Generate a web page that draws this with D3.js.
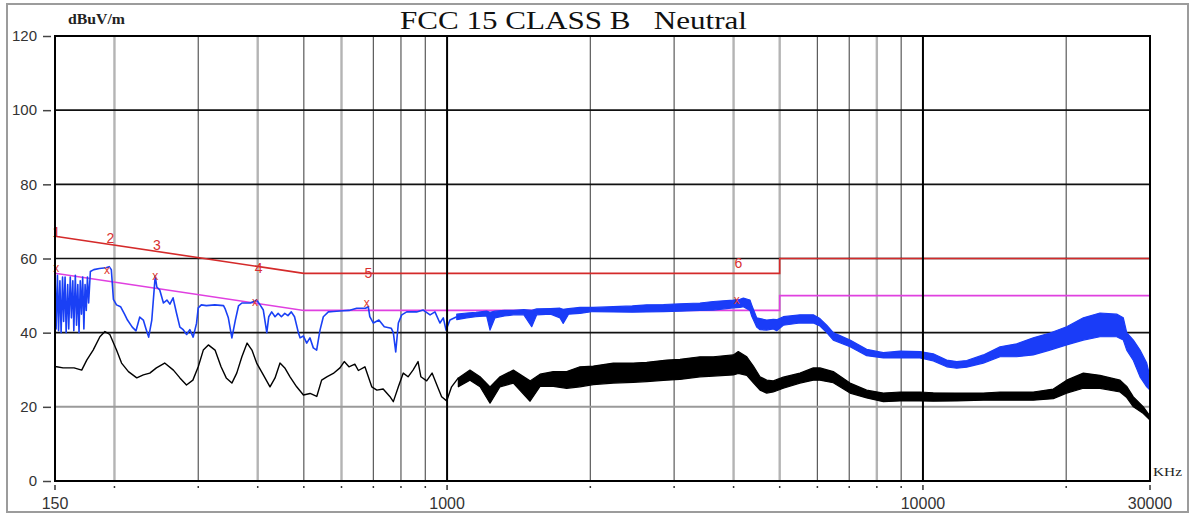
<!DOCTYPE html>
<html><head><meta charset="utf-8">
<script src="https://cdn.jsdelivr.net/npm/d3@7"></script>
<style>body{margin:0;background:#fff}svg{display:block}</style>
</head><body>
<script>
// ---------- DATA ----------
const titleText = "FCC 15 CLASS B   Neutral";
const yUnit = "dBuV/m";
const xUnit = "KHz";
const yTicks = [0, 20, 40, 60, 80, 100, 120];
const xTickLabels = [150, 1000, 10000, 30000];
const gridFreqs = [200,300,400,500,600,700,800,900,2000,3000,4000,5000,6000,7000,8000,9000,20000];
const majorFreqs = [1000, 10000];
const hGrid = [20, 40, 60, 80, 100];

// QP limit (red) and Average limit (magenta)
const limitFreq = [150, 500, 5000, 5000, 30000];
const qpLimit = [66, 56, 56, 60, 60];
const avLimit = [56, 46, 46, 50, 50];

// Peak trace (blue), low-frequency detailed part
const bluePeakFreq = [150,150.8,151.8,152.6,153.6,154.5,155.6,156.4,157.5,158.3,159.5,160.3,161.5,162.4,163.5,164.3,165.5,166.5,167.5,168.5,169.5,170.5,171.5,172.5,173.5,174.5,175.5,176.5,178,181,186,192,195,197,199,202,206,210,213,218,222,226,230,233,236,239.6,243.6,245.5,249,253.5,257.8,261.5,265.6,270,274.5,278.9,283.6,288,292.7,297.5,300,304.5,312,325,339,341.5,347,353,359,364.5,370.5,386,398,404.6,411,418,422,428,435,441.6,448.6,456,463,470.6,478,487,491,499,507,515,523.5,532,540.7,549.5,563,576.6,605,622,645.7,674,683,688,700,719,738,763,771,780,790,803,822.6,863,891,921,943,966,982,995,1014,1048];
const bluePeakDb = [56,41,55.5,40.5,54,40,55,43,55,40,53,41,55,44,54,40.5,55.5,42,53,40,54,45,55,41,53,46,55,48,56.5,57,57.3,57.5,57.8,57,49,47.5,47,45,43.4,41.5,40.5,44.2,43.4,41,38.8,43.4,55.3,52.3,51.5,48,48.8,47.7,49.4,45.3,41.5,40.8,39.5,40.8,38.8,42.5,46.7,47.5,47.3,47.5,47.3,46.5,44,38.6,43.4,47.2,48,48,48.8,47.5,46.1,40,44.3,45.6,44.3,45.2,44.3,45.2,44.6,45.6,44.3,40,38.6,39.1,37.2,38.6,35.9,35.3,40.7,44.3,45.6,45.7,45.9,46,46.6,46.6,47,44.3,42.6,43.4,41.6,41.2,40,34.8,42.6,44.8,45.6,45.6,46.1,44.8,45.6,42.6,44,40.7,43.4,44.3];

// Peak trace (blue), noisy band part: frequency, lower and upper envelope
const blueBandFreq = [1048,1100,1150,1211,1231,1261,1320,1378,1450,1506,1543,1650,1727,1754,1800,1902,2029,2235,2450,2627,2850,3086,3400,3626,3996,4126,4194,4330,4366,4473,4546,4695,4848,4928,5088,5515,5883,6075,6278,6480,7027,7616,8256,8949,9858,10512,11218,11774,12358,13392,14520,15740,17055,18490,20045,21730,23550,25530,26365,26807,27680,28590,29530,30000];
const blueBandLo = [43.5,44.0,44.3,44.5,40.7,44.0,44.5,44.8,44.8,41.6,44.8,45.0,44.0,42.5,45.0,45.2,45.7,45.6,45.5,45.6,45.7,45.8,46.0,46.1,46.7,46.8,47.0,46.0,44.5,41.5,40.8,40.7,41.0,40.5,42.0,42.6,42.6,41.8,40.0,38.0,36.2,33.8,33.2,33.2,33.2,32.4,30.8,30.4,30.7,31.8,33.5,33.5,34.0,35.3,36.7,38.0,38.9,38.9,38.0,35.3,32.5,28.1,25.4,24.5];
const blueBandHi = [45.0,45.3,45.5,45.8,45.5,45.8,46.0,46.0,46.2,46.0,46.4,46.5,46.6,46.3,46.5,46.8,46.8,47.0,47.2,47.5,47.6,47.8,48.0,48.4,48.8,49.0,49.3,48.8,47.5,44.0,43.8,43.4,43.6,43.5,44.3,44.8,44.8,43.8,42.0,40.0,38.0,35.5,34.6,35.0,34.9,34.3,32.6,32.2,32.5,34.0,36.2,37.0,38.6,39.9,41.6,44.0,45.3,45.0,44.0,40.0,38.0,35.3,31.8,28.0];

// Average trace (black), low-frequency detailed part
const blackAvgFreq = [150,151.2,156,164.5,170.7,174.9,180.4,186.4,191,195.6,202,207,214,222.8,230,237.3,245,255,266,274.5,283.4,292.3,300,307.4,315,325.4,335,343.5,353,361.4,370.5,380,389,398,411,424.5,435,445.6,456,467.7,483,499,515.4,532.3,545,558.8,576.6,595.5,608,622,640,651,672,694.6,712,734,758,771,790,809,828,848,869,881,906,930,955,974,998,1022,1056];
const blackAvgDb = [31,30.8,30.5,30.5,29.9,32.6,35.3,38.9,40.3,39.5,35.3,31.8,29.5,27.8,28.6,29.1,30.5,31.8,29.9,27.8,25.9,27.2,30.8,35.3,36.7,35.3,30.8,27.8,26.4,29.1,33.5,37.2,35.3,31.8,28.6,25.4,27.8,31.8,30.5,28.1,25.4,23.2,23.6,22.8,27.2,28.1,29,30.5,32.2,30.8,31.5,29.8,30.8,25.4,24.5,24.8,22.8,21.4,25.4,29.1,28.1,29.9,32.2,28.1,27,29.1,25.4,22.7,21.6,25.4,27.8];

// Average trace (black), noisy band part
const blackBandFreq = [1056,1117,1173,1231,1292,1378,1494,1568,1672,1784,1902,2029,2235,2462,2627,2894,3086,3400,3626,3996,4092,4264,4402,4546,4695,4848,5088,5515,5883,6075,6480,7027,7616,8256,8949,9858,10512,11774,13392,14520,17055,18790,20045,21730,23550,25950,26807,27680,29050,30000];
const blackBandLo = [25.4,27.2,25.4,21.0,25.4,26.4,21.5,25.5,25.5,25.0,25.4,26.0,26.4,26.6,26.8,27.2,27.4,28.1,28.3,28.6,29.0,28.5,26.5,24.5,23.7,24.0,25.0,26.4,27.2,27.2,26.5,23.7,22.4,21.4,21.6,21.6,21.5,21.6,21.8,21.8,21.8,22.2,23.7,25.0,25.0,24.0,22.5,20.0,18.2,16.4];
const blackBandHi = [27.8,29.9,28.1,25.4,28.1,29.9,27.0,28.8,29.5,29.5,30.8,31.0,31.8,31.8,32.0,32.6,32.8,33.5,33.5,34.0,34.9,33.5,31.0,28.1,27.2,27.0,28.0,29.1,30.5,30.5,29.5,26.4,24.5,23.7,24.0,24.0,23.8,23.7,23.7,24.0,24.0,24.8,27.2,29.1,28.5,27.2,25.5,22.7,20.0,17.5];

// Markers: numbered labels and "x" peak marks
const markerIds = ["1","2","3","4","5","6"];
const markerLabelFreq = [151, 196, 245.5, 402, 683, 4092];
const markerLabelDb = [67.2, 65.5, 63.6, 57.4, 56.0, 58.7];
const markerPeakFreq = [151, 193, 243.6, 395, 678, 4060];
const markerPeakDb = [57.4, 56.9, 55.3, 48.4, 48.1, 48.8];

// ---------- DRAW ----------
const W = 1194, H = 515;
const L = 55, R = 1150, T = 36, B = 481;
const svg = d3.select("body").append("svg").attr("width", W).attr("height", H);
svg.append("rect").attr("width", W).attr("height", H).attr("fill", "#fff");
svg.append("rect").attr("x", 7).attr("y", 4).attr("width", 1181).attr("height", 508)
  .attr("fill", "none").attr("stroke", "#9c9c9c").attr("stroke-width", 2);

const x = d3.scaleLog().domain([150, 30000]).range([L, R]);
const y = d3.scaleLinear().domain([0, 120]).range([B, T]);

// minor vertical grid
const lightSet = new Set([200, 400, 600, 4000, 5000, 8000]);
svg.append("g").selectAll("line").data(gridFreqs).join("line")
  .attr("x1", d => x(d)).attr("x2", d => x(d)).attr("y1", T).attr("y2", B)
  .attr("stroke", d => lightSet.has(d) ? "#b4b4b4" : "#5a5a5a")
  .attr("stroke-width", d => lightSet.has(d) ? 2.4 : 1.2);

// horizontal grid
svg.append("g").selectAll("line").data(hGrid).join("line")
  .attr("x1", L).attr("x2", R).attr("y1", d => y(d)).attr("y2", d => y(d))
  .attr("stroke", d => d === 20 ? "#9a9a9a" : "#111")
  .attr("stroke-width", d => d === 20 ? 2 : 1.6);

// limits
const lim = (vals) => d3.line().x((d, i) => x(limitFreq[i])).y(d => y(d))(vals);
svg.append("path").attr("d", lim(avLimit)).attr("fill", "none").attr("stroke", "#e040e0").attr("stroke-width", 1.6);
svg.append("path").attr("d", lim(qpLimit)).attr("fill", "none").attr("stroke", "#d42a2a").attr("stroke-width", 1.6);

// traces
function band(freqs, lo, hi, color) {
  const a = d3.area().x((d, i) => x(freqs[i])).y0((d, i) => y(lo[i])).y1((d, i) => y(hi[i]));
  svg.append("path").attr("d", a(freqs)).attr("fill", color).attr("stroke", color).attr("stroke-width", 1.2).attr("stroke-linejoin", "round");
}
function trace(freqs, vals, color, w) {
  const l = d3.line().x((d, i) => x(freqs[i])).y(d => y(d));
  svg.append("path").attr("d", l(vals)).attr("fill", "none").attr("stroke", color).attr("stroke-width", w).attr("stroke-linejoin", "round");
}
band(blueBandFreq, blueBandLo, blueBandHi, "#1a3cf8");
trace(bluePeakFreq, bluePeakDb, "#1a40f5", 1.6);
band(blackBandFreq, blackBandLo, blackBandHi, "#000");
trace(blackAvgFreq, blackAvgDb, "#000", 1.4);

// major vertical grid on top
svg.append("g").selectAll("line").data(majorFreqs).join("line")
  .attr("x1", d => x(d)).attr("x2", d => x(d)).attr("y1", T).attr("y2", B)
  .attr("stroke", "#000").attr("stroke-width", 2);

// markers
svg.append("g").selectAll("text").data(markerIds).join("text")
  .attr("x", (d, i) => x(markerLabelFreq[i])).attr("y", (d, i) => y(markerLabelDb[i]))
  .attr("text-anchor", "middle").attr("dominant-baseline", "central")
  .attr("font-family", "Liberation Sans, Arial, sans-serif").attr("font-size", 14)
  .attr("fill", "#d83030").text(d => d);
svg.append("g").selectAll("text").data(markerIds).join("text")
  .attr("x", (d, i) => x(markerPeakFreq[i])).attr("y", (d, i) => y(markerPeakDb[i]))
  .attr("text-anchor", "middle").attr("dominant-baseline", "central")
  .attr("font-family", "Liberation Sans, Arial, sans-serif").attr("font-size", 12)
  .attr("fill", "#e03c30").text("x");

// plot frame
svg.append("rect").attr("x", L).attr("y", T).attr("width", R - L).attr("height", B - T)
  .attr("fill", "none").attr("stroke", "#000").attr("stroke-width", 2);

// y axis
const yAxis = d3.axisLeft(y).tickValues(yTicks).tickSize(8).tickPadding(6).tickFormat(d3.format("d"));
const gy = svg.append("g").attr("transform", "translate(51,0)").call(yAxis);
gy.select(".domain").remove();
gy.selectAll("line").attr("stroke", "#444").attr("stroke-width", 1.5);
gy.selectAll("text").attr("font-family", "Liberation Sans, Arial, sans-serif").attr("font-size", 15).attr("fill", "#333");

// x axis: small tick dots + labels
const allTicks = [150].concat(gridFreqs, majorFreqs, [30000]);
svg.append("g").selectAll("line").data(allTicks).join("line")
  .attr("x1", d => x(d)).attr("x2", d => x(d))
  .attr("y1", d => xTickLabels.includes(d) ? 485 : 486).attr("y2", d => xTickLabels.includes(d) ? 490 : 488)
  .attr("stroke", "#333").attr("stroke-width", 1.5);
svg.append("g").selectAll("text").data(xTickLabels).join("text")
  .attr("x", d => x(d)).attr("y", 509).attr("text-anchor", "middle")
  .attr("font-family", "Liberation Sans, Arial, sans-serif").attr("font-size", 16).attr("fill", "#333")
  .text(d => d);

// texts
svg.append("text").attr("x", 400).attr("y", 29).attr("textLength", 347).attr("lengthAdjust", "spacingAndGlyphs")
  .attr("font-family", "Liberation Serif, Times New Roman, serif").attr("font-size", 26).attr("fill", "#111")
  .attr("xml:space", "preserve").style("white-space", "pre").text(titleText);
svg.append("text").attr("x", 68).attr("y", 24).attr("textLength", 57).attr("lengthAdjust", "spacingAndGlyphs")
  .attr("font-family", "Liberation Serif, Times New Roman, serif").attr("font-size", 14).attr("font-weight", "bold").attr("fill", "#222")
  .text(yUnit);
svg.append("text").attr("x", 1153).attr("y", 476).attr("textLength", 29).attr("lengthAdjust", "spacingAndGlyphs")
  .attr("font-family", "Liberation Serif, Times New Roman, serif").attr("font-size", 13).attr("fill", "#222")
  .text(xUnit);
</script>
</body></html>
